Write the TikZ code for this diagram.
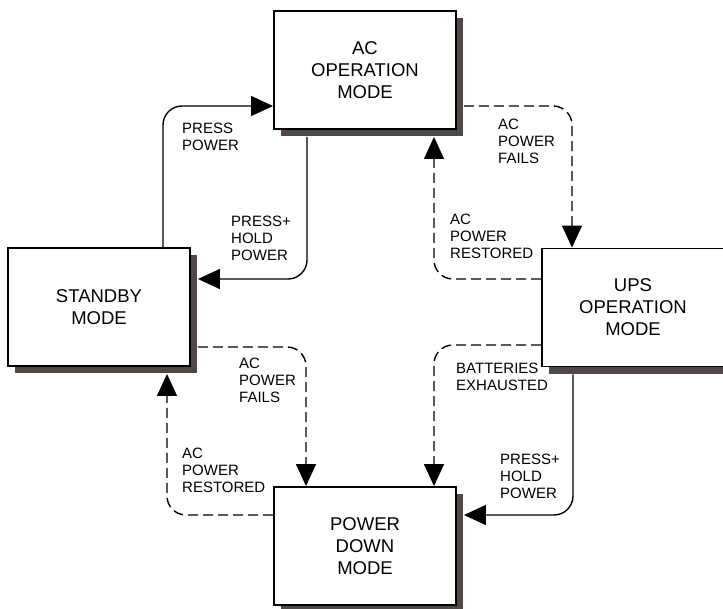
\documentclass[tikz,border=0pt]{standalone}
\usepackage{fontspec}
\setmainfont{Liberation Sans}
\usetikzlibrary{arrows.meta,shadows}
\definecolor{shadowgray}{RGB}{80,72,68}
\tikzset{
  mode/.style={draw,line width=1.9pt,fill=white,minimum width=182pt,minimum height=118pt,
    align=center,font=\fontsize{18.5}{22}\selectfont,
    drop shadow={fill=shadowgray,opacity=1,shadow xshift=7pt,shadow yshift=-7pt}},
  trans/.style={line width=1.4pt,rounded corners=19pt,-{Triangle[length=22pt,width=20pt]}},
  lost/.style={trans,dash pattern=on 10pt off 5pt},
  cond/.style={anchor=north west,inner sep=0pt,align=left,font=\fontsize{15}{17}\selectfont}
}
\begin{document}
\begin{tikzpicture}[x=1pt,y=-1pt]
        \useasboundingbox (0,0) rectangle (723,608);
        \node[mode] (ac) at (365,70) {AC\\OPERATION\\MODE};
        \node[mode] (ups) at (633,307.5) {UPS\\OPERATION\\MODE};
        \node[mode] (stby) at (99,307) {STANDBY\\MODE};
        \node[mode] (pd) at (365,546) {POWER\\DOWN\\MODE};
        \draw [trans] ([xshift=64pt]stby.north) |- ([yshift=-36pt]ac.west);
        \draw [trans] ([xshift=-58pt,yshift=-7pt]ac.south) |- ([xshift=7pt,yshift=28pt]stby.east);
        \draw [lost] ([xshift=7pt,yshift=-36pt]ac.east) -| ([xshift=-61pt]ups.north);
        \draw [lost] ([yshift=28.5pt]ups.west) -| ([xshift=69pt,yshift=-7pt]ac.south);
        \draw [lost] ([xshift=7pt,yshift=-40pt]stby.east) -| ([xshift=-59pt]pd.north);
        \draw [lost] ([yshift=31pt]pd.west) -| ([xshift=68pt,yshift=-7pt]stby.south);
        \draw [lost] ([yshift=-37.5pt]ups.west) -| ([xshift=69pt]pd.north);
        \draw [trans] ([xshift=-60pt,yshift=-7pt]ups.south) |- ([xshift=7pt,yshift=31pt]pd.east);
        \node[cond] (pressa) at (182,123) {PRESS\\POWER};
        \node[cond] (holda) at (231,216) {PRESS+\\HOLD\\POWER};
        \node[cond] (failsa) at (498,119) {AC\\POWER\\FAILS};
        \node[cond] (restoreda) at (450,214) {AC\\POWER\\RESTORED};
        \node[cond] (failsb) at (239,358) {AC\\POWER\\FAILS};
        \node[cond] (restoredb) at (182,448) {AC\\POWER\\RESTORED};
        \node[cond] (empty) at (456,363) {BATTERIES\\EXHAUSTED};
        \node[cond] (holdb) at (500,454) {PRESS+\\HOLD\\POWER};
\end{tikzpicture}
\end{document}
